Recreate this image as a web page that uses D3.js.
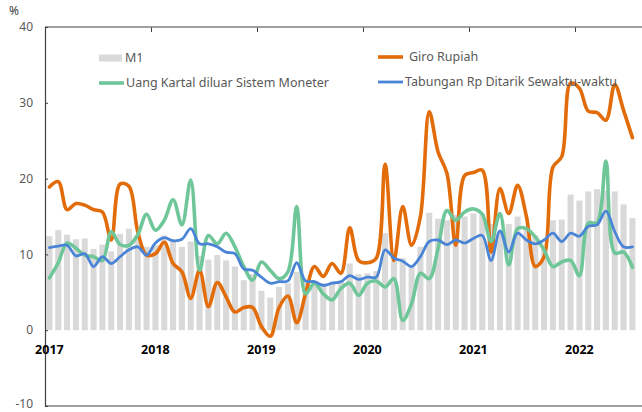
<!DOCTYPE html>
<html>
<head>
<meta charset="utf-8">
<script src="https://cdn.jsdelivr.net/npm/d3@7"></script>
<style>
  html, body { margin: 0; padding: 0; background: #fff; }
  svg { display: block; }
  text { font-family: "Noto Sans", "Open Sans", sans-serif; }
</style>
</head>
<body>
<div id="chart"></div>
<script>
// ---- Data (monthly, Jan 2017 – Jul 2022, % yoy) ----
const startYear = 2017;
const monthCount = 67;
const months = d3.range(monthCount).map(i => `${startYear + Math.floor(i / 12)}-${String(i % 12 + 1).padStart(2, "0")}`);

const yearLabels = ["2017", "2018", "2019", "2020", "2021", "2022"];
const yTicks = [-10, 0, 10, 20, 30, 40];

const m1 = [
  12.4, 13.2, 12.6, 12.0, 12.1, 10.7, 11.3, 10.4, 12.7, 13.4, 12.3, 11.0,
  11.2, 12.5, 11.7, 11.0, 11.7, 9.8, 9.3, 9.9, 9.2, 8.4, 6.6, 7.4,
  5.2, 4.3, 5.7, 6.2, 7.7, 6.6, 6.4, 6.2, 6.4, 6.6, 8.8, 7.4,
  7.5, 7.8, 12.8, 9.2, 9.5, 8.4, 11.0, 15.5, 14.7, 14.5, 15.2, 15.0,
  15.4, 15.3, 14.0, 13.0, 14.0, 15.0, 13.6, 12.5, 10.6, 14.5, 14.6, 17.9,
  17.1, 18.3, 18.6, 18.4, 18.3, 16.6, 14.8
];

const giroRupiah = [
  18.9, 19.6, 15.9, 16.7, 16.5, 15.9, 15.6, 11.9, 19.3, 19.0, 13.0, 9.9,
  10.1, 11.6, 8.8, 7.7, 4.2, 7.9, 3.1, 6.3, 4.4, 2.4, 3.0, 3.0,
  0.5, -0.8, 3.0, 4.5, 1.0, 4.8, 8.4, 7.1, 8.8, 7.5, 13.5, 9.2,
  8.9, 9.5, 21.9, 9.2, 16.3, 11.2, 15.0, 28.8, 23.5, 20.7, 11.2, 20.4,
  20.8, 21.1, 10.3, 18.7, 15.4, 19.1, 15.0, 8.4, 9.7, 21.5, 22.9, 32.6,
  31.9, 28.9, 28.7, 27.7, 32.4, 29.0, 25.4
];

const uangKartal = [
  6.9, 8.9, 11.5, 10.8, 9.9, 9.7, 9.2, 13.0, 11.3, 11.2, 12.6, 15.3,
  13.2, 14.5, 17.2, 13.9, 19.8, 7.9, 12.5, 11.4, 12.8, 11.0, 8.4, 6.6,
  9.0, 7.9, 6.8, 7.7, 16.3, 4.8, 6.2, 4.8, 4.0, 5.5, 6.2, 4.6,
  6.2, 6.5, 5.7, 6.8, 1.3, 3.5, 7.5, 6.8, 10.8, 15.8, 14.5, 15.6,
  16.0, 15.3, 11.7, 15.4, 8.6, 13.4, 13.4, 12.3, 10.6, 8.4, 9.0, 9.2,
  7.2, 14.1, 14.2, 22.3, 10.2, 10.3, 8.3
];

const tabungan = [
  10.9, 11.1, 11.2, 9.8, 10.1, 8.4, 9.7, 8.8, 9.7, 10.6, 11.0, 9.9,
  11.5, 12.2, 11.8, 12.0, 13.4, 11.4, 11.4, 11.0, 10.3, 10.1, 8.1, 7.9,
  7.0, 6.2, 6.4, 6.5, 8.9, 6.5, 6.4, 5.9, 6.2, 6.4, 7.2, 6.7,
  7.0, 7.0, 10.6, 9.5, 9.1, 8.4, 9.7, 11.7, 11.9, 11.3, 11.9, 11.5,
  12.1, 12.5, 9.2, 13.1, 10.3, 12.8, 11.9, 11.4, 11.9, 12.8, 11.7, 12.8,
  12.4, 13.7, 13.9, 15.7, 13.0, 11.0, 11.0
];

const seriesNames = ["M1", "Giro Rupiah", "Uang Kartal diluar Sistem Moneter", "Tabungan Rp Ditarik Sewaktu-waktu"];
const colors = { bar: "#d9d9d9", giro: "#e36c0a", uang: "#6fc699", tab: "#4a84d6" };

// ---- Layout ----
const W = 642, H = 412;
const plotLeft = 45, plotTop = 27, plotBottom = 406;
const stepPx = 106 / 12;
const plotRight = plotLeft + monthCount * stepPx;

const svg = d3.select("#chart").append("svg").attr("width", W).attr("height", H);

const x = d3.scaleBand().domain(months).range([plotLeft, plotRight]).paddingInner(0.32).paddingOuter(0.16);
const xc = d => x(d) + x.bandwidth() / 2;
const y = d3.scaleLinear().domain([-10, 40]).range([plotBottom, plotTop]);
const xYear = d3.scaleLinear().domain([startYear, startYear + monthCount / 12]).range([plotLeft, plotRight]);

// bars
svg.append("g").selectAll("rect").data(months).join("rect")
  .attr("x", d => x(d))
  .attr("width", x.bandwidth())
  .attr("y", (d, i) => y(Math.max(0, m1[i])))
  .attr("height", (d, i) => Math.abs(y(m1[i]) - y(0)))
  .attr("fill", colors.bar);

// lines
const line = d3.line().x(d => xc(d[0])).y(d => y(d[1])).curve(d3.curveCatmullRom.alpha(0.5));
const addLine = (vals, color, w) => svg.append("path")
  .datum(months.map((m, i) => [m, vals[i]]))
  .attr("d", line).attr("fill", "none").attr("stroke", color)
  .attr("stroke-width", w).attr("stroke-linejoin", "round").attr("stroke-linecap", "round");
addLine(giroRupiah, colors.giro, 3.6);
addLine(uangKartal, colors.uang, 3.6);
addLine(tabungan, colors.tab, 2.8);

// top border with year ticks
const topAxis = d3.axisBottom(xYear).tickValues(d3.range(2018, 2023)).tickSize(5).tickFormat("").tickSizeOuter(0);
const gTop = svg.append("g").attr("transform", `translate(0,${plotTop})`).call(topAxis);
gTop.select(".domain").remove();
gTop.selectAll("line").attr("stroke", "#404040");
svg.append("line").attr("x1", plotLeft).attr("x2", W).attr("y1", plotTop).attr("y2", plotTop)
  .attr("stroke", "#7f7f7f").attr("stroke-width", 1.3);
// bottom border
svg.append("line").attr("x1", plotLeft).attr("x2", W).attr("y1", plotBottom).attr("y2", plotBottom)
  .attr("stroke", "#404040").attr("stroke-width", 1.2);

// y axis
const yAxis = d3.axisRight(y).tickValues(yTicks).tickSize(3).tickFormat("");
const gy = svg.append("g").attr("transform", `translate(${plotLeft},0)`).call(yAxis);
gy.select(".domain").attr("stroke", "#404040").attr("stroke-width", 1.2);
gy.selectAll("line").attr("stroke", "#404040");
svg.append("g").selectAll("text").data(yTicks).join("text")
  .attr("x", 33).attr("y", d => Math.min(y(d), 404)).attr("dy", "0.35em")
  .attr("text-anchor", "end").attr("font-size", 12).attr("fill", "#595959")
  .text(d => d);
svg.append("text").attr("x", 9).attr("y", 15).attr("font-size", 12).attr("fill", "#404040").text("%");

// year labels (centred on January)
svg.append("g").selectAll("text").data(yearLabels).join("text")
  .attr("x", d => xc(`${d}-01`)).attr("y", 354)
  .attr("text-anchor", "middle").attr("font-size", 12.5).attr("font-weight", "bold").attr("fill", "#000")
  .text(d => d);

// legend
const legend = [
  { name: seriesNames[0], type: "bar", color: colors.bar, x: 99, y: 58 },
  { name: seriesNames[1], type: "line", color: colors.giro, x: 378, y: 57, w: 3.6, gap: 31 },
  { name: seriesNames[2], type: "line", color: colors.uang, x: 99, y: 83, w: 3.6, gap: 27 },
  { name: seriesNames[3], type: "line", color: colors.tab, x: 378, y: 82, w: 2.8, gap: 27 }
];
const lg = svg.append("g").selectAll("g").data(legend).join("g");
lg.filter(d => d.type === "bar").append("rect")
  .attr("x", d => d.x).attr("y", d => d.y - 3.5).attr("width", 23).attr("height", 7).attr("fill", d => d.color);
lg.filter(d => d.type === "line").append("line")
  .attr("x1", d => d.x).attr("x2", d => d.x + 25).attr("y1", d => d.y).attr("y2", d => d.y)
  .attr("stroke", d => d.color).attr("stroke-width", d => d.w);
lg.append("text")
  .attr("x", d => d.x + (d.type === "bar" ? 26 : d.gap)).attr("y", d => d.y).attr("dy", "0.35em")
  .attr("font-size", 12.5).attr("fill", "#595959")
  .text(d => d.name);
</script>
</body>
</html>
